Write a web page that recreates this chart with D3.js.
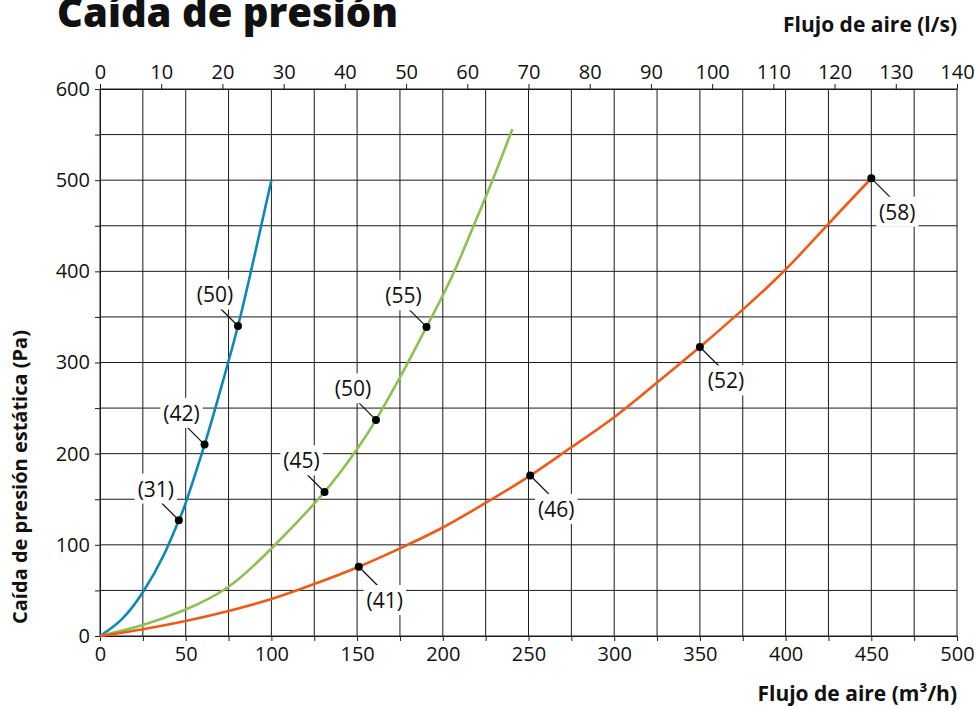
<!DOCTYPE html>
<html>
<head>
<meta charset="utf-8">
<script src="https://cdn.jsdelivr.net/npm/d3@7"></script>
<style>
body { margin: 0; background: #fff; }
text { font-family: "Open Sans", sans-serif; fill: #111; }
</style>
</head>
<body>
<svg id="chart" width="977" height="709"></svg>
<script>
// ticks
var flowTicks = d3.range(0, 501, 25);        // m3/h, labelled every 50
var pressureTicks = d3.range(0, 601, 50);    // Pa, labelled every 100
var litreTicks = d3.range(0, 141, 10);       // l/s, top axis

// curves: [flow m3/h, pressure Pa]
var blueCurve = [[0, 0], [12.5, 18], [25, 48], [37.5, 90], [46, 127], [50, 146], [61, 210],
	[70, 268], [80.5, 340], [90, 416], [100, 500]];
var greenCurve = [[0, 0], [25, 12], [50, 29], [75, 54], [100, 96], [131, 158], [150, 205],
	[161, 237], [178, 294], [190.5, 339], [205, 393], [218, 450], [229, 500], [240.6, 556]];
var orangeCurve = [[0, 0], [25, 7.5], [50, 16.5], [75, 27.5], [100, 40.6], [125, 57], [151, 76],
	[176, 97], [200, 119], [225, 146], [251, 176], [275, 207], [300, 240], [325, 278],
	[350, 317], [375, 358], [400, 402], [425, 452], [450, 502]];

// marked points with their noise level label
var blueMarks = [[46, 127, "(31)"], [61, 210, "(42)"], [80.5, 340, "(50)"]];
var greenMarks = [[131, 158, "(45)"], [161, 237, "(50)"], [190.5, 339, "(55)"]];
var orangeMarks = [[151, 76, "(41)"], [251, 176, "(46)"], [350, 317, "(52)"], [450, 502, "(58)"]];

var series = [
	{ curve: blueCurve, marks: blueMarks, color: "#0f87b5", side: -1 },
	{ curve: greenCurve, marks: greenMarks, color: "#8cc152", side: -1 },
	{ curve: orangeCurve, marks: orangeMarks, color: "#ef5a17", side: 1 }
];

var svg = d3.select("#chart");

var x = d3.scaleLinear().domain([0, 500]).range([100, 957]);
var xTop = d3.scaleLinear().domain([0, 140]).range([100, 957]);
var y = d3.scaleLinear().domain([0, 600]).range([636, 89]);

// grid
var grid = svg.append("g").attr("class", "grid")
	.attr("stroke", "#1a1a1a").attr("stroke-width", 1);

grid.selectAll("line.v").data(flowTicks).enter().append("line")
	.attr("class", "v")
	.attr("x1", function(d) { return x(d); })
	.attr("x2", function(d) { return x(d); })
	.attr("y1", y(0)).attr("y2", y(600));

grid.selectAll("line.h").data(pressureTicks).enter().append("line")
	.attr("class", "h")
	.attr("x1", x(0)).attr("x2", x(500))
	.attr("y1", function(d) { return y(d); })
	.attr("y2", function(d) { return y(d); });

// axes
var styleAxis = function(g) {
	g.selectAll("text").style("font-size", "20px").attr("fill", "#111");
	g.selectAll("line").attr("stroke", "#1a1a1a");
	g.select(".domain").attr("stroke", "#1a1a1a");
};

svg.append("g")
	.attr("transform", "translate(0," + y(0) + ")")
	.call(d3.axisBottom(x).tickValues(flowTicks).tickSize(5).tickSizeOuter(0).tickPadding(6)
		.tickFormat(function(d) { return d % 50 === 0 ? d : ""; }))
	.call(styleAxis);

svg.append("g")
	.attr("transform", "translate(" + x(0) + ",0)")
	.call(d3.axisLeft(y).tickValues(pressureTicks).tickSize(5).tickSizeOuter(0).tickPadding(5)
		.tickFormat(function(d) { return d % 100 === 0 ? d : ""; }))
	.call(styleAxis);

svg.append("g")
	.attr("transform", "translate(0," + y(600) + ")")
	.call(d3.axisTop(xTop).tickValues(litreTicks).tickSize(5).tickSizeOuter(0).tickPadding(5))
	.call(styleAxis);

// curves
var line = d3.line()
	.x(function(d) { return x(d[0]); })
	.y(function(d) { return y(d[1]); })
	.curve(d3.curveNatural);

series.forEach(function(s) {
	svg.append("path")
		.datum(s.curve)
		.attr("fill", "none")
		.attr("stroke", s.color)
		.attr("stroke-width", 2.6)
		.attr("d", line);
});

// marks: leader line, label on a white box, dot
series.forEach(function(s) {
	var g = svg.append("g").selectAll("g").data(s.marks).enter().append("g")
		.attr("transform", function(d) { return "translate(" + [x(d[0]), y(d[1])] + ")"; });

	g.append("line")
		.attr("x1", 0).attr("y1", 0)
		.attr("x2", s.side * 21).attr("y2", s.side * 21)
		.attr("stroke", "#111").attr("stroke-width", 1.2);

	var box = g.append("rect").attr("fill", "#fff");

	var label = g.append("text")
		.attr("text-anchor", "middle")
		.attr("x", s.side < 0 ? -23 : 26)
		.attr("y", s.side < 0 ? -31 : 34)
		.attr("dy", "0.35em")
		.style("font-size", "21px")
		.text(function(d) { return d[2]; });

	label.each(function() {
		var b = this.getBBox();
		d3.select(this.parentNode).select("rect")
			.attr("x", b.x - 3).attr("y", b.y - 1)
			.attr("width", b.width + 6).attr("height", b.height + 2);
	});

	g.append("circle").attr("r", 4).attr("fill", "#000");
});

// titles
svg.append("text")
	.attr("x", 57).attr("y", 27)
	.style("font-size", "40px").style("font-weight", 800)
	.text("Caída de presión");

svg.append("text")
	.attr("x", 957).attr("y", 32)
	.attr("text-anchor", "end")
	.style("font-size", "21px").style("font-weight", 700)
	.text("Flujo de aire (l/s)");

svg.append("text")
	.attr("x", 957).attr("y", 701)
	.attr("text-anchor", "end")
	.style("font-size", "21px").style("font-weight", 700)
	.text("Flujo de aire (m³/h)");

svg.append("text")
	.attr("transform", "translate(27,477) rotate(-90)")
	.attr("text-anchor", "middle")
	.style("font-size", "20px").style("font-weight", 700)
	.text("Caída de presión estática (Pa)");
</script>
</body>
</html>
